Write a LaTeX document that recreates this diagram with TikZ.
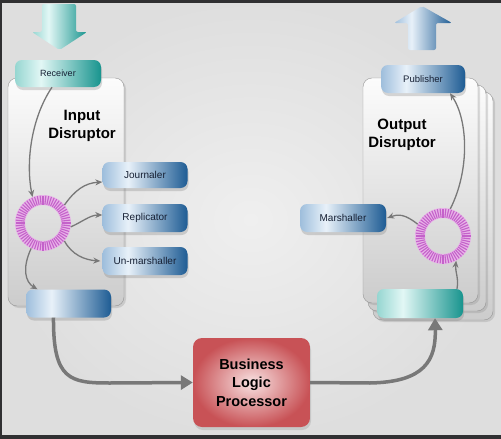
\documentclass[tikz,border=0pt]{standalone}
\usepackage{fontspec}
\setmainfont{Liberation Sans}
\usepackage{tikz}
\usetikzlibrary{arrows.meta, positioning, calc, shadows}
\definecolor{bgcenter}{RGB}{239,239,239}
\definecolor{bgedge}{RGB}{222,222,222}
\definecolor{framedark}{RGB}{48,48,50}
\definecolor{tealedge}{RGB}{150,214,209}
\definecolor{tealhi}{RGB}{226,247,245}
\definecolor{tealdark}{RGB}{24,148,142}
\definecolor{bluedge}{RGB}{158,190,220}
\definecolor{bluehi}{RGB}{232,241,249}
\definecolor{bluedark}{RGB}{30,92,148}
\definecolor{redhi}{RGB}{248,226,226}
\definecolor{reddark}{RGB}{200,82,86}
\definecolor{panelhi}{RGB}{252,252,252}
\definecolor{panello}{RGB}{204,204,204}
\definecolor{panelline}{RGB}{150,150,150}
\definecolor{ringpale}{RGB}{232,178,232}
\definecolor{ringtick}{RGB}{196,98,202}
\definecolor{flowgray}{RGB}{120,120,120}
\definecolor{labeltext}{RGB}{22,32,52}
\pgfdeclarehorizontalshading{bluebar}{100bp}{color(0bp)=(bluedge); color(25bp)=(bluedge); color(40bp)=(bluehi); color(75bp)=(bluedark); color(100bp)=(bluedark)}
\pgfdeclarehorizontalshading{tealbar}{100bp}{color(0bp)=(tealedge); color(25bp)=(tealedge); color(40bp)=(tealhi); color(75bp)=(tealdark); color(100bp)=(tealdark)}

\begin{document}
\begin{tikzpicture}[x=1pt, y=-1pt,
  panel/.style={rounded corners=9pt, draw=panelline, top color=panelhi, bottom color=panello,
    drop shadow={opacity=0.25, shadow xshift=2pt, shadow yshift=-2pt}},
  stage/.style={rounded corners=7pt, minimum width=85pt, minimum height=27pt, inner sep=0pt,
    text=labeltext, font=\fontsize{10}{12}\selectfont,
    drop shadow={opacity=0.3, shadow xshift=1pt, shadow yshift=-3pt}},
  bluestage/.style={stage, shading=bluebar},
  tealstage/.style={stage, shading=tealbar},
  ring/.style={circle, minimum size=46pt, inner sep=0pt, draw=ringpale, line width=10pt},
  ringtick/.style={draw=ringtick, line width=1.1pt},
  title/.style={align=center, font=\fontsize{15}{18}\selectfont\bfseries},
  flow/.style={draw=flowgray, line width=1.3pt, -{Stealth[length=7pt,width=6pt]}},
  mainflow/.style={draw=flowgray, line width=3.5pt, -{Triangle[length=12pt,width=14pt]}}]

  \shade[inner color=bgcenter, outer color=bgedge] (0,0) rectangle (501,439);
  \useasboundingbox (0,0) rectangle (501,439);
  \fill[framedark] (0,0) rectangle (501,3);
  \fill[framedark] (0,435) rectangle (501,439);
  \fill[framedark] (0,0) rectangle (2,439);

  \shade[shading=tealbar, rounded corners=2pt] (42,4) -- (76,4) -- (76,32) -- (87,32) -- (59.5,50) -- (32,32) -- (42,32) -- cycle;
  \shade[shading=bluebar, rounded corners=2pt] (408,50) -- (436,50) -- (436,23) -- (452,23) -- (422,6) -- (394,23) -- (408,23) -- cycle;

  \node[panel, minimum width=116pt, minimum height=228pt] (inpanel) at (66,192) {};
  \node[panel, minimum width=120pt, minimum height=228pt] (outpage3) at (433,206) {};
  \node[panel, minimum width=118pt, minimum height=226pt] (outpage2) at (427,198) {};
  \node[panel, minimum width=115pt, minimum height=225pt] (outpage1) at (420.5,190.5) {};

  \node[title] (intitle) at (82,126) {Input\\Disruptor};
  \node[title] (outtitle) at (402,135) {Output\\Disruptor};

  \node[ring] (inring) at (43,223) {};
  \foreach \a in {0,6,...,354}
    \draw[ringtick] ([shift={(\a:18.5pt)}]inring.center) -- ([shift={(\a:27.5pt)}]inring.center);
  \node[ring] (outring) at (443,236) {};
  \foreach \a in {0,6,...,354}
    \draw[ringtick] ([shift={(\a:18.5pt)}]outring.center) -- ([shift={(\a:27.5pt)}]outring.center);

  \node[tealstage, minimum width=86pt, font=\fontsize{9}{11}\selectfont] (receiver) at (58,73.5) {Receiver};
  \node[bluestage, minimum height=26pt] (journaler) at (145,175) {Journaler};
  \node[bluestage, minimum height=28pt] (replicator) at (145,218) {Replicator};
  \node[bluestage, minimum height=28pt] (unmarshaller) at (145,261) {Un-marshaller};
  \node[bluestage, minimum height=28pt] (inslot) at (68.5,303.5) {};

  \node[bluestage, minimum width=84pt, minimum height=28pt, font=\fontsize{9.5}{11}\selectfont] (publisher) at (423,79) {Publisher};
  \node[bluestage, minimum width=86pt, minimum height=28pt] (marshaller) at (343,218) {Marshaller};
  \node[tealstage, minimum width=86pt, minimum height=29pt] (outslot) at (420,303.5) {};

  \node[rounded corners=9pt, minimum width=117pt, minimum height=89pt, inner color=redhi, outer color=reddark,
    align=center, font=\fontsize{14.5}{18.5}\selectfont\bfseries,
    drop shadow={opacity=0.25, shadow xshift=1pt, shadow yshift=-3pt}] (blp) at (251.5,382.5) {Business\\Logic\\Processor};

  \draw[flow] ([xshift=-6pt]receiver.south) .. controls (30,120) and (26,165) .. (inring.112);
  \draw[flow] (inring.40) .. controls (75,190) and (85,183) .. ([yshift=-7pt]journaler.west);
  \draw[flow] (inring.-8) .. controls (82,222) and (90,215) .. ([yshift=3pt]replicator.west);
  \draw[flow] (inring.-40) .. controls (72,255) and (85,260) .. ([xshift=-2pt]unmarshaller.west);
  \draw[flow] (inring.245) .. controls (22,268) and (25,282) .. ([xshift=-31pt]inslot.north);
  \draw[mainflow] ([xshift=-15pt]inslot.south) .. controls (53,380) and (70,383) .. (110,383) -- (blp.west);
  \draw[mainflow] (blp.east) -- (370,383) .. controls (425,382) and (436,360) .. ([xshift=15pt]outslot.south);
  \draw[flow] ([xshift=37pt]outslot.north) .. controls (459,278) and (455,272) .. (outring.-62);
  \draw[flow] (outring.155) .. controls (405,214) and (398,214) .. ([xshift=1pt]marshaller.east);
  \draw[flow] (outring.75) .. controls (470,170) and (468,120) .. ([xshift=27pt]publisher.south);
\end{tikzpicture}
\end{document}
